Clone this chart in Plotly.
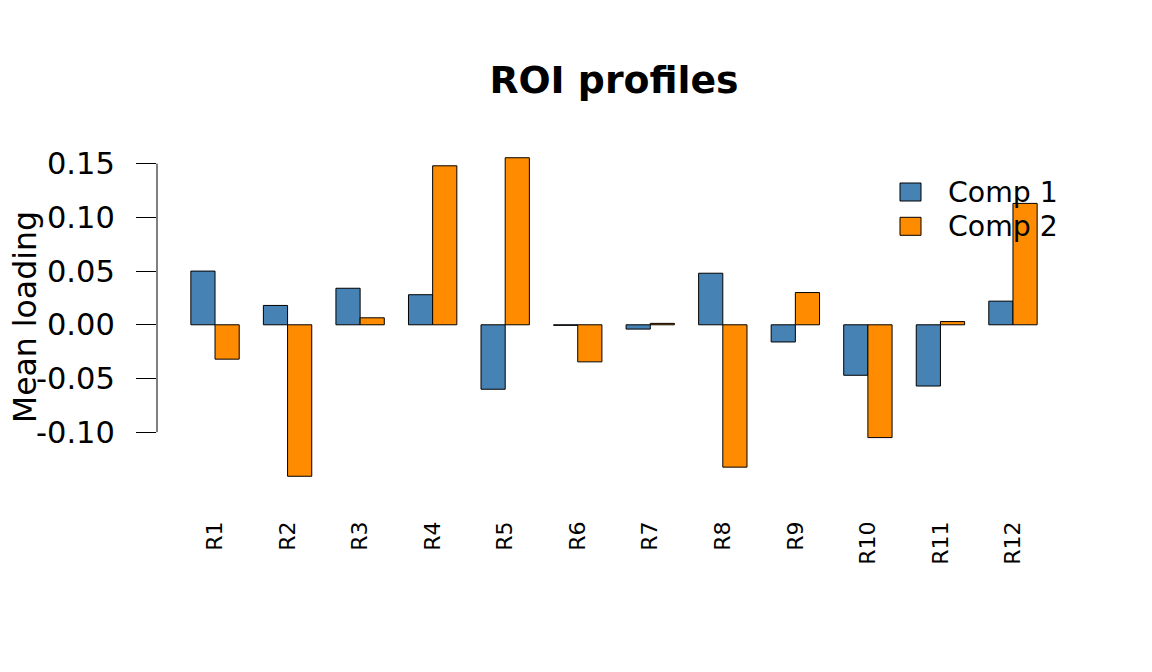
import numpy as np
import plotly.graph_objects as go

regions = ["R1", "R2", "R3", "R4", "R5", "R6", "R7", "R8", "R9", "R10", "R11", "R12"]
comp1 = [0.050, 0.018, 0.034, 0.028, -0.060, -0.0005, -0.004, 0.048, -0.016, -0.047, -0.057, 0.022]
comp2 = [-0.032, -0.141, 0.0065, 0.148, 0.1555, -0.0345, 0.0013, -0.1325, 0.030, -0.105, 0.003, 0.113]
series_names = ["Comp 1", "Comp 2"]
series_colors = ["#4682B4", "#FF8C00"]
y_ticks = [-0.10, -0.05, 0.00, 0.05, 0.10, 0.15]

W, H = 1152, 672
OFF = 8  # page body margin in the browser
ML, MR, MT, MB = 157, 81, 145, 183   # plot box as seen on screen
FONT = "DejaVu Sans"
BASE = 31.5

# R-style 4% padding around the data range
allv = np.array(comp1 + comp2)
lo, hi = allv.min(), allv.max()
pad = 0.04 * (hi - lo)
yrange = [lo - pad, hi + pad]

fig = go.Figure()
for name, vals, col in zip(series_names, [comp1, comp2], series_colors):
    fig.add_trace(go.Bar(
        x=regions, y=vals, name=name,
        marker=dict(color=col, line=dict(color="black", width=1)),
        showlegend=False,
    ))

fig.update_layout(
    width=W, height=H,
    margin=dict(l=ML - OFF, r=MR + OFF, t=MT - OFF, b=MB + OFF),
    paper_bgcolor="white", plot_bgcolor="white",
    barmode="group", bargap=1/3, bargroupgap=0,
    font=dict(family=FONT, color="black"),
    title=dict(text="<b>ROI profiles</b>", x=((ML + (W - MR)) / 2 - OFF) / W, xanchor="center",
               xref="container", yref="container", y=1 - (80 - OFF) / H, yanchor="middle",
               font=dict(size=BASE * 1.2, family=FONT)),
    xaxis=dict(range=[-0.8, 11.8], showline=False, showgrid=False, zeroline=False,
               ticks="", tickangle=-90, tickfont=dict(size=BASE * 0.7), ticklabelstandoff=27),
    yaxis=dict(range=yrange, tickvals=y_ticks, ticktext=["%.2f" % v for v in y_ticks],
               showline=False, showgrid=False, zeroline=False,
               ticks="outside", ticklen=20, tickwidth=1, tickcolor="black",
               tickfont=dict(size=30.5), ticklabelstandoff=15),
)

# y axis line only spanning the tick range, as in base R
fig.add_shape(type="line", xref="paper", yref="y", x0=0, x1=0,
              y0=min(y_ticks), y1=max(y_ticks), line=dict(color="black", width=1))

pw, ph = W - ML - MR, H - MT - MB
def px(x):
    return (x - ML) / pw
def py(y):
    return (H - MB - y) / ph

fig.add_annotation(text="Mean loading", textangle=-90, xref="paper", yref="paper",
                   x=px(25), y=0.5, xanchor="center", yanchor="middle",
                   showarrow=False, font=dict(size=BASE, family=FONT))

# manual legend (no box), drawn above the bars
for i, (name, col) in enumerate(zip(series_names, series_colors)):
    top = 183 + i * 34.3
    fig.add_shape(type="rect", xref="paper", yref="paper", layer="above",
                  x0=px(900), x1=px(921), y0=py(top), y1=py(top + 18),
                  fillcolor=col, line=dict(color="black", width=1))
    fig.add_annotation(text=name, xref="paper", yref="paper", x=px(946), y=py(top + 9),
                       xanchor="left", yanchor="middle", showarrow=False,
                       font=dict(size=BASE * 0.9, family=FONT))

fig.write_html("out.html")
